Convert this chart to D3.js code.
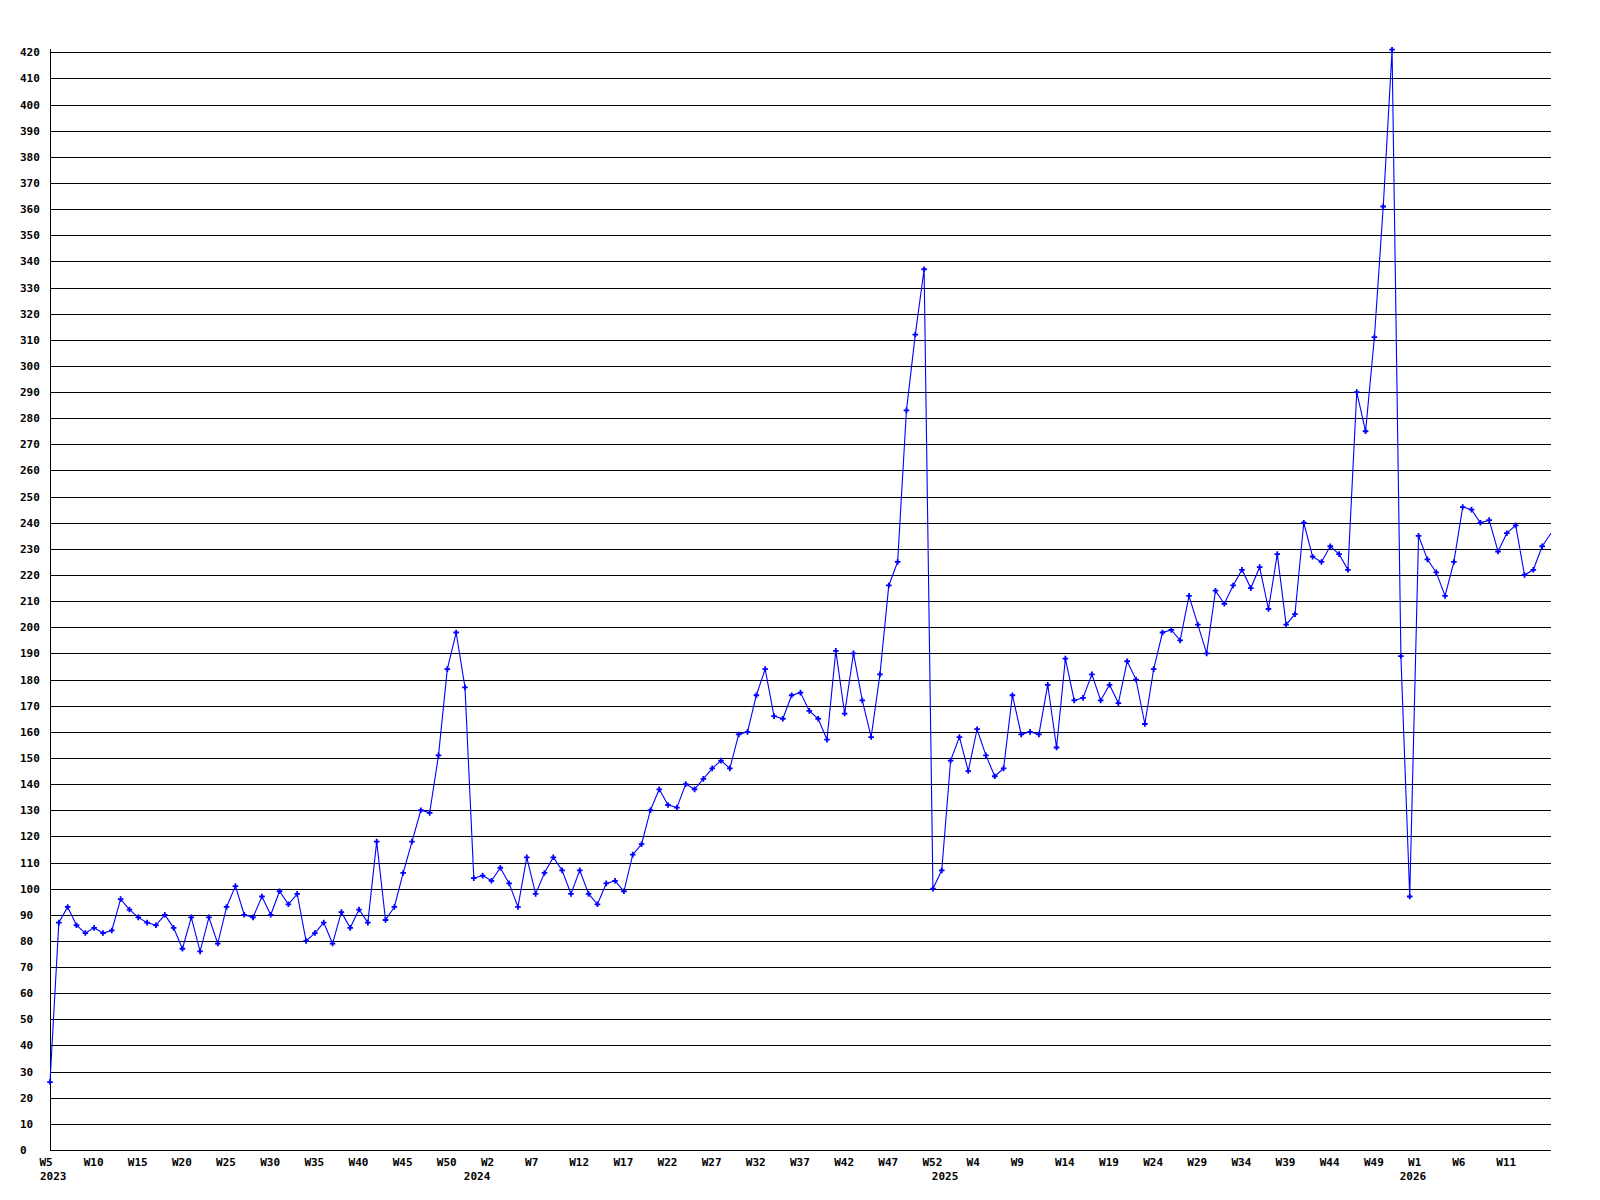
<!DOCTYPE html>
<html>
<head>
<meta charset="utf-8">
<script src="https://cdn.jsdelivr.net/npm/d3@7"></script>
<style>
  body { margin: 0; background: #fff; }
  text { font-family: "DejaVu Sans Mono", "Liberation Mono", monospace; font-weight: bold; font-size: 11px; fill: #000; }
</style>
</head>
<body>
<div id="chart"></div>
<script>
// weekly counts, 2023 W5 .. 2026 W16
const values = [
  26, 87, 93, 86, 83, 85, 83, 84, 96, 92,
  89, 87, 86, 90, 85, 77, 89, 76, 89, 79,
  93, 101, 90, 89, 97, 90, 99, 94, 98, 80,
  83, 87, 79, 91, 85, 92, 87, 118, 88, 93,
  106, 118, 130, 129, 151, 184, 198, 177, 104, 105,
  103, 108, 102, 93, 112, 98, 106, 112, 107, 98,
  107, 98, 94, 102, 103, 99, 113, 117, 130, 138,
  132, 131, 140, 138, 142, 146, 149, 146, 159, 160,
  174, 184, 166, 165, 174, 175, 168, 165, 157, 191,
  167, 190, 172, 158, 182, 216, 225, 283, 312, 337,
  100, 107, 149, 158, 145, 161, 151, 143, 146, 174,
  159, 160, 159, 178, 154, 188, 172, 173, 182, 172,
  178, 171, 187, 180, 163, 184, 198, 199, 195, 212,
  201, 190, 214, 209, 216, 222, 215, 223, 207, 228,
  201, 205, 240, 227, 225, 231, 228, 222, 290, 275,
  311, 361, 421, 189, 97, 235, 226, 221, 212, 225,
  246, 245, 240, 241, 229, 236, 239, 220, 222, 231,
  236
];

// x axis ticks (point index -> label)
const tickIndex = [0, 5, 10, 15, 20, 25, 30, 35, 40, 45, 50, 55, 60, 65, 70, 75, 80, 85, 90, 95,
  100, 105, 110, 115, 120, 125, 130, 135, 140, 145, 150, 155, 160, 165];
const tickLabels = ["W5", "W10", "W15", "W20", "W25", "W30", "W35", "W40", "W45", "W50",
  "W2", "W7", "W12", "W17", "W22", "W27", "W32", "W37", "W42", "W47",
  "W52", "W4", "W9", "W14", "W19", "W24", "W29", "W34", "W39", "W44",
  "W49", "W1", "W6", "W11"];
const yearIndex = [0, 48, 101, 154];
const yearLabels = ["2023", "2024", "2025", "2026"];
const yTicks = d3.range(0, 421, 10);

const width = 1600;
const height = 1200;
const margin = {left: 50, right: 49, top: 52.3, bottom: 50};

const svg = d3.select("#chart")
  .append("svg")
  .attr("width", width)
  .attr("height", height);

const x = d3.scaleLinear()
  .domain([0, values.length - 1])
  .range([margin.left, width - margin.right]);

const y = d3.scaleLinear()
  .domain([0, 420])
  .range([height - margin.bottom, margin.top]);

// markers are cut at the right border of the plot
svg.append("clipPath")
  .attr("id", "plot-clip")
  .append("rect")
    .attr("x", 0)
    .attr("y", 0)
    .attr("width", width - margin.right - 3)
    .attr("height", height);

// horizontal grid lines
svg.append("g")
  .selectAll("line")
  .data(yTicks)
  .enter()
  .append("line")
    .attr("x1", margin.left)
    .attr("x2", width - margin.right)
    .attr("y1", d => Math.round(y(d)) + 0.5)
    .attr("y2", d => Math.round(y(d)) + 0.5)
    .attr("stroke", "#000")
    .attr("stroke-width", 1)
    .attr("shape-rendering", "crispEdges");

// y axis line
svg.append("line")
  .attr("x1", margin.left + 0.5)
  .attr("x2", margin.left + 0.5)
  .attr("y1", margin.top - 3)
  .attr("y2", height - margin.bottom + 0.5)
  .attr("stroke", "#000")
  .attr("shape-rendering", "crispEdges");

// y tick labels, left aligned
svg.append("g")
  .selectAll("text")
  .data(yTicks)
  .enter()
  .append("text")
    .attr("x", 20)
    .attr("y", d => y(d) + 4)
    .text(d => d);

// week labels
svg.append("g")
  .selectAll("text")
  .data(tickIndex)
  .enter()
  .append("text")
    .attr("x", d => x(d) - 10.5)
    .attr("y", 1166)
    .text((d, i) => tickLabels[i]);

// year labels
svg.append("g")
  .selectAll("text")
  .data(yearIndex)
  .enter()
  .append("text")
    .attr("x", d => x(d) - 10)
    .attr("y", 1180)
    .text((d, i) => yearLabels[i]);

// data line
const line = d3.line()
  .x((d, i) => x(i))
  .y(d => y(d));

svg.append("path")
  .datum(values)
  .attr("d", line)
  .attr("fill", "none")
  .attr("stroke", "#0000ff")
  .attr("stroke-width", 1.1);

// small plus-shaped markers
const marker = "M-0.9,-2.8L0.9,-2.8L0.9,-0.9L2.8,-0.9L2.8,0.9L0.9,0.9L0.9,2.8L-0.9,2.8L-0.9,0.9L-2.8,0.9L-2.8,-0.9L-0.9,-0.9Z";
svg.append("g")
  .attr("clip-path", "url(#plot-clip)")
  .selectAll("path")
  .data(values)
  .enter()
  .append("path")
    .attr("d", marker)
    .attr("transform", (d, i) => `translate(${x(i)},${y(d)})`)
    .attr("fill", "#0000ff");
</script>
</body>
</html>
